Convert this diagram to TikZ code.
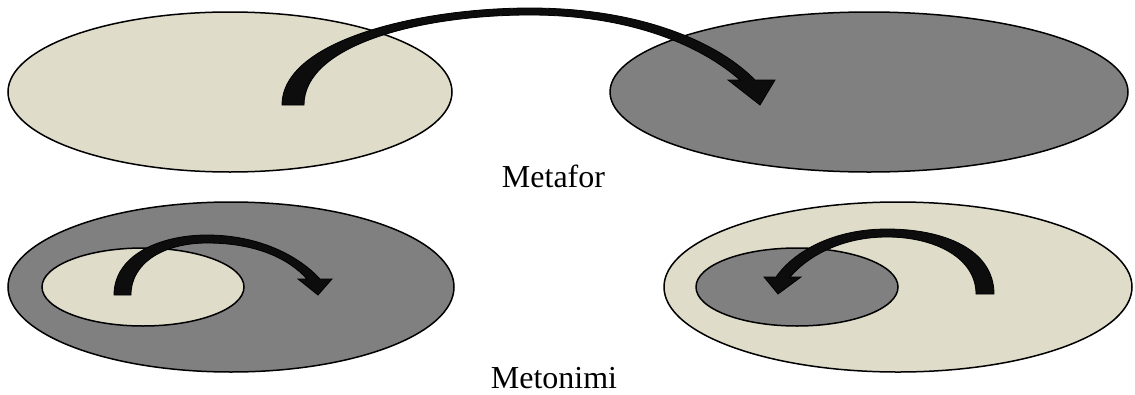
\documentclass[tikz,border=0pt]{standalone}
\usepackage{fontspec}
\setmainfont{Liberation Serif}
\definecolor{beige}{HTML}{DFDCCA}
\definecolor{midgray}{HTML}{808080}
\definecolor{arrowblack}{HTML}{0D0D0D}
\tikzset{
  region/.style={draw=black, line width=1.5pt},
  light/.style={region, fill=beige},
  dark/.style={region, fill=midgray},
  bigarrow/.style={draw=black, line width=0.8pt, fill=arrowblack, line join=miter},
  caption/.style={anchor=base, inner sep=0pt, font=\fontsize{32}{38}\selectfont}
}
\begin{document}
\begin{tikzpicture}[x=1pt,y=-1pt]
\useasboundingbox (0,0) rectangle (1135,394);
% top row
\draw[light] (230,92) ellipse [x radius=222, y radius=80];
\draw[dark] (869,92) ellipse [x radius=259, y radius=80];
\coordinate (tA) at (282,105);
\coordinate (tB) at (304,105);
\fill[bigarrow] (tA) .. controls (282,40) and (420,8) .. (530,8)
  .. controls (640,8) and (718,42) .. (755,80)
  -- (775,80) -- (760,105) -- (728,80) -- (740,80)
  .. controls (700,45) and (630,15) .. (530,15)
  .. controls (420,15) and (304,45) .. (tB) -- cycle;
\node[caption] (metafor) at (553.5,187) {Metafor};
% bottom left
\draw[dark] (231,287) ellipse [x radius=223, y radius=85];
\draw[light] (143,287) ellipse [x radius=101, y radius=39];
\fill[bigarrow] (114,295) .. controls (114,255) and (160,235) .. (207,235)
  .. controls (258,235) and (298,255) .. (320,279)
  -- (332,279) -- (318,295) -- (298,279) -- (307,279)
  .. controls (288,258) and (255,243) .. (207,243)
  .. controls (165,243) and (131,262) .. (131,295) -- cycle;
% bottom right
\draw[light] (898,287) ellipse [x radius=234, y radius=85];
\draw[dark] (797,287) ellipse [x radius=101, y radius=39];
\fill[bigarrow] (994,294) .. controls (994,250) and (945,229) .. (887,229)
  .. controls (835,229) and (795,250) .. (776,277)
  -- (764,277) -- (778,294) -- (801,277) -- (790,277)
  .. controls (808,256) and (842,237) .. (887,237)
  .. controls (935,237) and (976,258) .. (976,294) -- cycle;
\node[caption] (metonimi) at (554,388) {Metonimi};
\end{tikzpicture}
\end{document}
